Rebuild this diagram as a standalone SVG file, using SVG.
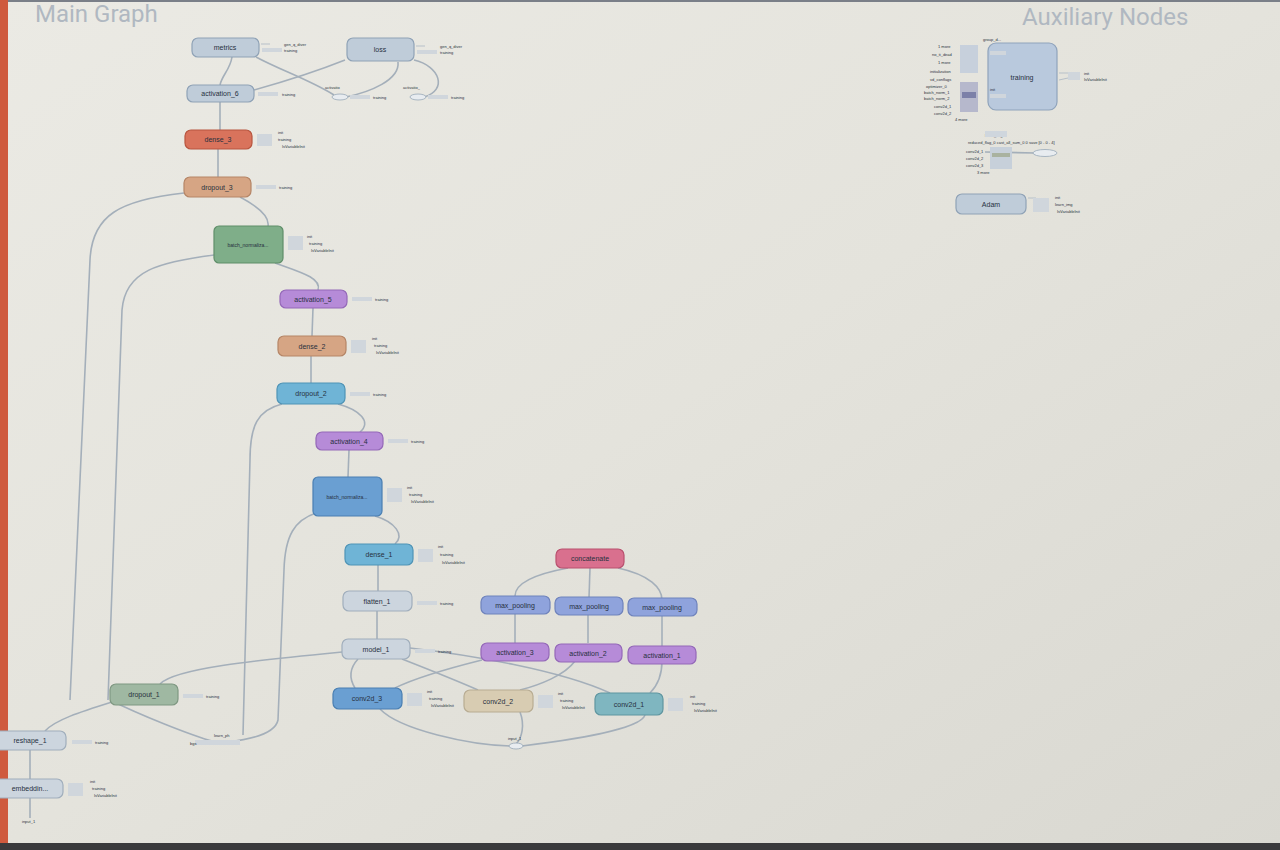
<svg xmlns="http://www.w3.org/2000/svg" width="1280" height="850" viewBox="0 0 1280 850">
<defs>
<linearGradient id="bg" x1="0" y1="0" x2="1" y2="1">
<stop offset="0" stop-color="#ebeae4"/>
<stop offset="0.5" stop-color="#e4e3dc"/>
<stop offset="1" stop-color="#d9d8d1"/>
</linearGradient>
<style>
.n rect{stroke-width:1.2}
.lbl{font-family:"Liberation Sans",Arial,sans-serif;font-size:7px;fill:#27303e;text-anchor:middle}
.sm{font-family:"Liberation Sans",Arial,sans-serif;font-size:4px;fill:#2a3340}
.title{font-family:"Roboto","Liberation Sans",sans-serif;font-size:24px;fill:#b0b8c1}
.e{fill:none;stroke:#a4afba;stroke-width:1.6}
.st{stroke:#b7c0c9;stroke-width:1}
.pill{fill:#d0d6dc}
.grey{fill:#bfccd9;stroke:#8fa2b6}
.org{fill:#d9735c;stroke:#b8553f}
.tan{fill:#d6a584;stroke:#b58566}
.grn{fill:#7fae89;stroke:#5f8e69}
.pur{fill:#b68bd8;stroke:#9468b8}
.blu{fill:#6fb4d6;stroke:#4f94b6}
.bbl{fill:#6a9fd2;stroke:#4a7fb2}
.pnk{fill:#d9708e;stroke:#b9506e}
.mp{fill:#8fa3dc;stroke:#6f83bc}
.bei{fill:#d8ccb2;stroke:#b8ac92}
.tea{fill:#7fb6c0;stroke:#5f96a0}
.lgr{fill:#ccd5de;stroke:#a0aebc}
.dg{fill:#9fb8a2;stroke:#7f9882}
</style>
</defs>
<rect x="0" y="0" width="1280" height="850" fill="url(#bg)"/>
<rect x="0" y="0" width="1280" height="2" fill="#7a7f88"/>
<rect x="0" y="0" width="8" height="850" fill="#cf5a3e"/>
<rect x="0" y="843" width="1280" height="7" fill="#3a3a3c"/>
<text class="title" x="35" y="22">Main Graph</text>
<text class="title" x="1022" y="25">Auxiliary Nodes</text>

<g id="connectors">
<path class="e" d="M232 57 C230 70 222 75 220 85"/>
<path class="e" d="M254 90 C290 80 320 70 345 60"/>
<path class="e" d="M256 57 C280 70 310 80 334 95"/>
<path class="e" d="M398 62 C400 80 370 92 346 97"/>
<path class="e" d="M414 60 C440 66 448 90 424 97"/>
<path class="e" d="M220 102 L220 130"/>
<path class="e" d="M218 149 L218 177"/>
<path class="e" d="M240 197 C255 205 270 215 268 226"/>
<path class="e" d="M184 193 C120 200 92 215 90 260 L70 700"/>
<path class="e" d="M214 255 C160 262 125 270 122 310 L108 700"/>
<path class="e" d="M275 263 C300 272 322 278 318 290"/>
<path class="e" d="M313 308 L312 336"/>
<path class="e" d="M311 356 L311 383"/>
<path class="e" d="M282 404 C258 410 250 425 250 460 L243 735"/>
<path class="e" d="M338 404 C360 410 372 422 360 432"/>
<path class="e" d="M349 450 L348 477"/>
<path class="e" d="M316 513 C295 520 285 535 284 570 L278 720 C275 735 245 740 228 742"/>
<path class="e" d="M375 516 C395 522 405 535 395 544"/>
<path class="e" d="M378 565 L378 591"/>
<path class="e" d="M377 611 L377 639"/>
<path class="e" d="M342 652 C260 660 175 668 160 684"/>
<path class="e" d="M112 702 C80 712 55 720 45 731"/>
<path class="e" d="M110 700 C140 715 190 735 215 742"/>
<path class="e" d="M30 750 L30 779"/>
<path class="e" d="M30 798 L30 818"/>
<path class="e" d="M358 659 C348 670 350 680 355 688"/>
<path class="e" d="M402 659 C430 670 460 682 478 690"/>
<path class="e" d="M410 648 C470 655 560 670 610 693"/>
<path class="e" d="M482 660 C450 668 415 678 395 688"/>
<path class="e" d="M575 661 C565 675 540 685 520 690"/>
<path class="e" d="M662 661 C662 678 655 688 650 693"/>
<path class="e" d="M380 709 C400 730 470 745 510 746"/>
<path class="e" d="M520 712 C525 725 522 738 516 744"/>
<path class="e" d="M645 715 C640 730 570 740 522 746"/>
<path class="e" d="M568 568 C530 575 515 585 515 596"/>
<path class="e" d="M590 568 L589 598"/>
<path class="e" d="M618 568 C650 575 662 588 662 600"/>
<path class="e" d="M515 614 L515 643"/>
<path class="e" d="M588 614 L588 643"/>
<path class="e" d="M662 616 L662 646"/>
<path class="e" d="M985 152 L1035 153"/>
</g>

<g id="metrics" class="n"><rect class="grey" x="192" y="38" width="67" height="19" rx="6"/><text class="lbl" x="225" y="50">metrics</text>
<line class="st" x1="261" y1="44" x2="270" y2="44"/><rect class="pill" x="262" y="48" width="20" height="4"/><text class="sm" x="284" y="46">gen_q_diver</text><text class="sm" x="284" y="52">training</text></g>
<g id="loss" class="n"><rect class="grey" x="347" y="38" width="67" height="23" rx="6"/><text class="lbl" x="380" y="52">loss</text>
<line class="st" x1="416" y1="46" x2="425" y2="46"/><rect class="pill" x="417" y="50" width="20" height="4"/><text class="sm" x="440" y="48">gen_q_diver</text><text class="sm" x="440" y="54">training</text></g>
<g id="activatio_a"><ellipse cx="340" cy="97" rx="8" ry="3" fill="#e8ecf0" stroke="#98a8b8" stroke-width="0.8"/><text class="sm" x="325" y="89">activatio</text><rect class="pill" x="350" y="95" width="20" height="4"/><text class="sm" x="373" y="99">training</text></g>
<g id="activatio_b"><ellipse cx="418" cy="97" rx="8" ry="3" fill="#e8ecf0" stroke="#98a8b8" stroke-width="0.8"/><text class="sm" x="403" y="89">activatio_</text><rect class="pill" x="428" y="95" width="20" height="4"/><text class="sm" x="451" y="99">training</text></g>
<g id="activation_6" class="n"><rect class="grey" x="187" y="85" width="67" height="17" rx="6"/><text class="lbl" x="220" y="96">activation_6</text>
<rect class="pill" x="258" y="92" width="20" height="4"/><text class="sm" x="282" y="96">training</text></g>
<g id="dense_3" class="n"><rect class="org" x="185" y="130" width="67" height="19" rx="6"/><text class="lbl" x="218" y="142">dense_3</text>
<rect class="pill" x="257" y="134" width="15" height="12"/><text class="sm" x="278" y="134">init</text><text class="sm" x="278" y="141">training</text><text class="sm" x="282" y="148">IsVariableInit</text></g>
<g id="dropout_3" class="n"><rect class="tan" x="184" y="177" width="67" height="20" rx="6"/><text class="lbl" x="217" y="190">dropout_3</text>
<rect class="pill" x="256" y="185" width="20" height="4"/><text class="sm" x="279" y="189">training</text></g>
<g id="batch_normalization_2" class="n"><rect class="grn" x="214" y="226" width="69" height="37" rx="5"/><text class="lbl" x="248" y="247" style="font-size:5px">batch_normaliza...</text>
<rect class="pill" x="288" y="236" width="15" height="14"/><text class="sm" x="307" y="238">init</text><text class="sm" x="309" y="245">training</text><text class="sm" x="311" y="252">IsVariableInit</text></g>
<g id="activation_5" class="n"><rect class="pur" x="280" y="290" width="67" height="18" rx="6"/><text class="lbl" x="313" y="302">activation_5</text>
<rect class="pill" x="352" y="297" width="20" height="4"/><text class="sm" x="375" y="301">training</text></g>
<g id="dense_2" class="n"><rect class="tan" x="278" y="336" width="68" height="20" rx="6"/><text class="lbl" x="312" y="349">dense_2</text>
<rect class="pill" x="351" y="340" width="15" height="13"/><text class="sm" x="372" y="340">init</text><text class="sm" x="374" y="347">training</text><text class="sm" x="376" y="354">IsVariableInit</text></g>
<g id="dropout_2" class="n"><rect class="blu" x="277" y="383" width="68" height="21" rx="6"/><text class="lbl" x="311" y="396">dropout_2</text>
<rect class="pill" x="350" y="392" width="20" height="4"/><text class="sm" x="373" y="396">training</text></g>
<g id="activation_4" class="n"><rect class="pur" x="316" y="432" width="67" height="18" rx="6"/><text class="lbl" x="349" y="444">activation_4</text>
<rect class="pill" x="388" y="439" width="20" height="4"/><text class="sm" x="411" y="443">training</text></g>
<g id="batch_normalization_1" class="n"><rect class="bbl" x="313" y="477" width="69" height="39" rx="5"/><text class="lbl" x="347" y="499" style="font-size:5px">batch_normaliza...</text>
<rect class="pill" x="387" y="488" width="15" height="14"/><text class="sm" x="407" y="489">init</text><text class="sm" x="409" y="496">training</text><text class="sm" x="411" y="503">IsVariableInit</text></g>
<g id="dense_1" class="n"><rect class="blu" x="345" y="544" width="68" height="21" rx="6"/><text class="lbl" x="379" y="557">dense_1</text>
<rect class="pill" x="418" y="549" width="15" height="13"/><text class="sm" x="438" y="548">init</text><text class="sm" x="440" y="556">training</text><text class="sm" x="442" y="564">IsVariableInit</text></g>
<g id="flatten_1" class="n"><rect class="lgr" x="343" y="591" width="69" height="20" rx="6"/><text class="lbl" x="377" y="604">flatten_1</text>
<rect class="pill" x="417" y="601" width="20" height="4"/><text class="sm" x="440" y="605">training</text></g>
<g id="model_1" class="n"><rect class="lgr" x="342" y="639" width="68" height="20" rx="6"/><text class="lbl" x="376" y="652">model_1</text>
<rect class="pill" x="415" y="649" width="20" height="4"/><text class="sm" x="438" y="653">training</text></g>
<g id="concatenate" class="n"><rect class="pnk" x="556" y="549" width="68" height="19" rx="6"/><text class="lbl" x="590" y="561">concatenate</text></g>
<g id="max_pooling_3" class="n"><rect class="mp" x="481" y="596" width="69" height="18" rx="6"/><text class="lbl" x="515" y="608">max_pooling</text></g>
<g id="max_pooling_2" class="n"><rect class="mp" x="555" y="597" width="68" height="18" rx="6"/><text class="lbl" x="589" y="609">max_pooling</text></g>
<g id="max_pooling_1" class="n"><rect class="mp" x="628" y="598" width="69" height="18" rx="6"/><text class="lbl" x="662" y="610">max_pooling</text></g>
<g id="activation_3" class="n"><rect class="pur" x="481" y="643" width="68" height="18" rx="6"/><text class="lbl" x="515" y="655">activation_3</text></g>
<g id="activation_2" class="n"><rect class="pur" x="555" y="644" width="67" height="18" rx="6"/><text class="lbl" x="588" y="656">activation_2</text></g>
<g id="activation_1" class="n"><rect class="pur" x="628" y="646" width="68" height="18" rx="6"/><text class="lbl" x="662" y="658">activation_1</text></g>
<g id="conv2d_3" class="n"><rect class="bbl" x="333" y="688" width="69" height="21" rx="6"/><text class="lbl" x="367" y="701">conv2d_3</text>
<rect class="pill" x="407" y="693" width="15" height="13"/><text class="sm" x="427" y="693">init</text><text class="sm" x="429" y="700">training</text><text class="sm" x="431" y="707">IsVariableInit</text></g>
<g id="conv2d_2" class="n"><rect class="bei" x="464" y="690" width="69" height="22" rx="6"/><text class="lbl" x="498" y="704">conv2d_2</text>
<rect class="pill" x="538" y="695" width="15" height="13"/><text class="sm" x="558" y="695">init</text><text class="sm" x="560" y="702">training</text><text class="sm" x="562" y="709">IsVariableInit</text></g>
<g id="conv2d_1" class="n"><rect class="tea" x="595" y="693" width="68" height="22" rx="6"/><text class="lbl" x="629" y="707">conv2d_1</text>
<rect class="pill" x="668" y="698" width="15" height="13"/><text class="sm" x="690" y="698">init</text><text class="sm" x="692" y="705">training</text><text class="sm" x="694" y="712">IsVariableInit</text></g>
<g id="input_1"><ellipse cx="516" cy="746" rx="7" ry="3" fill="#e8ecf0" stroke="#98a8b8" stroke-width="0.8"/><text class="sm" x="508" y="740">input_1</text></g>
<g id="dropout_1" class="n"><rect class="dg" x="110" y="684" width="68" height="21" rx="6"/><text class="lbl" x="144" y="697">dropout_1</text>
<rect class="pill" x="183" y="694" width="20" height="4"/><text class="sm" x="206" y="698">training</text></g>
<g id="keras_learning_phase"><rect class="pill" x="195" y="740" width="45" height="5"/><text class="sm" x="214" y="737">learn_ph</text><text class="sm" x="190" y="745">bgs</text></g>
<g id="reshape_1" class="n"><rect class="lgr" x="-6" y="731" width="72" height="19" rx="6"/><text class="lbl" x="30" y="743">reshape_1</text>
<rect class="pill" x="72" y="740" width="20" height="4"/><text class="sm" x="95" y="744">training</text></g>
<g id="embedding" class="n"><rect class="lgr" x="-6" y="779" width="69" height="19" rx="6"/><text class="lbl" x="30" y="791">embeddin...</text>
<rect class="pill" x="68" y="783" width="15" height="13"/><text class="sm" x="90" y="783">init</text><text class="sm" x="92" y="790">training</text><text class="sm" x="94" y="797">IsVariableInit</text></g>
<text class="sm" x="22" y="823">input_1</text>

<g id="training" class="n"><rect x="988" y="43" width="69" height="67" rx="8" fill="#b9c9dd" stroke="#8fa3bb" stroke-width="1.2"/><text class="lbl" x="1022" y="80">training</text>
<text class="sm" x="983" y="41">group_d...</text><text class="sm" x="990" y="91">init</text>
<rect class="pill" x="990" y="51" width="16" height="4"/><rect class="pill" x="990" y="94" width="16" height="4"/>
<rect x="960" y="45" width="18" height="28" fill="#c7d0dc"/><rect x="960" y="82" width="18" height="30" fill="#b6b8cc"/><rect x="962" y="92" width="14" height="6" fill="#7c80a8"/>
<text class="sm" x="938" y="48">1 more</text><text class="sm" x="932" y="56">no_ti_dead</text><text class="sm" x="938" y="64">1 more</text>
<text class="sm" x="930" y="73">initialization</text><text class="sm" x="930" y="81">vd_conflags</text><text class="sm" x="926" y="88">optimizer_0</text><text class="sm" x="924" y="94">batch_norm_1</text><text class="sm" x="924" y="100">batch_norm_2</text><text class="sm" x="934" y="108">conv2d_1</text><text class="sm" x="934" y="115">conv2d_2</text><text class="sm" x="955" y="121">4 more</text>
<line class="st" x1="1059" y1="73" x2="1068" y2="73"/><line class="st" x1="1059" y1="80" x2="1068" y2="78"/><rect class="pill" x="1068" y="72" width="12" height="8"/><text class="sm" x="1084" y="75">init</text><text class="sm" x="1084" y="81">IsVariableInit</text></g>
<g id="init_cluster"><text class="sm" x="985" y="137">learn_img</text><text class="sm" x="968" y="144">reduced_flag_0 cast_all_sum_0 0 save [0 - 0 - 4]</text>
<rect x="985" y="131" width="22" height="6" fill="#cfd6dd"/>
<rect x="990" y="147" width="22" height="22" fill="#c7d0da"/><rect x="992" y="153" width="18" height="4" fill="#a9b2a0"/>
<text class="sm" x="966" y="153">conv2d_1</text><text class="sm" x="966" y="160">conv2d_2</text><text class="sm" x="966" y="167">conv2d_3</text><text class="sm" x="977" y="174">3 more</text>
<ellipse cx="1045" cy="153" rx="12" ry="3.5" fill="#e8ecf0" stroke="#98a8b8" stroke-width="0.8"/></g>
<g id="Adam" class="n"><rect class="grey" x="956" y="194" width="70" height="20" rx="6"/><text class="lbl" x="991" y="207">Adam</text>
<line class="st" x1="1028" y1="198" x2="1036" y2="198"/><rect class="pill" x="1033" y="198" width="16" height="14"/><text class="sm" x="1055" y="199">init</text><text class="sm" x="1055" y="206">learn_img</text><text class="sm" x="1057" y="213">IsVariableInit</text></g>
</svg>
